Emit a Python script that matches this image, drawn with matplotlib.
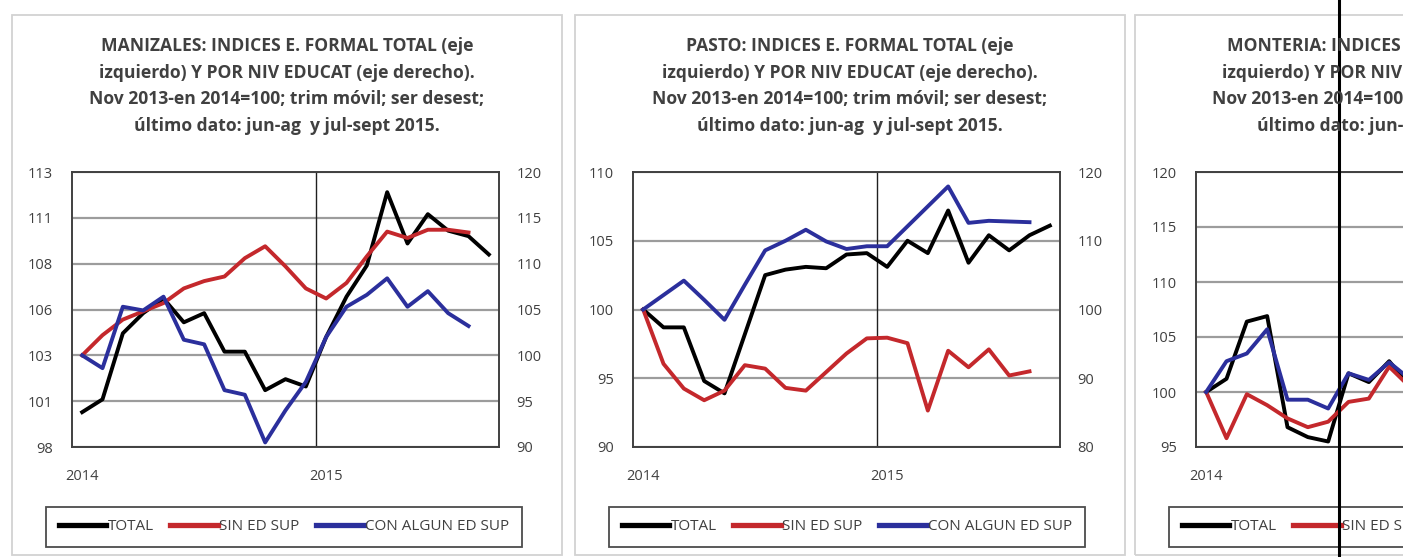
import matplotlib.pyplot as plt
from matplotlib.patches import Rectangle
from matplotlib.lines import Line2D

plt.rcParams['font.family'] = ['Open Sans', 'DejaVu Sans']

# index Nov2013-Jan2014 = 100, rolling quarter, seasonally adjusted
# one point per month, first point = 2014, TOTAL has one month more
year_labels = ["2014", "2015"]
legend_labels = ["TOTAL", "SIN ED SUP", "CON ALGUN ED SUP"]

title_tail = ["izquierdo) Y POR NIV EDUCAT (eje derecho).",
              "Nov 2013-en 2014=100; trim móvil; ser desest;",
              "último dato: jun-ag  y jul-sept 2015."]

# MANIZALES
manizales_total = [99.9, 100.6, 104.2, 105.3, 106.1, 104.8, 105.3, 103.2, 103.2, 101.1, 101.7,
                   101.3, 104.0, 106.2, 107.9, 111.9, 109.1, 110.7, 109.8, 109.5, 108.5]
manizales_sin = [100, 102.2, 103.9, 104.8, 105.7, 107.3, 108.1, 108.6, 110.6, 111.9, 109.7,
                 107.3, 106.2, 107.9, 110.8, 113.5, 112.8, 113.7, 113.7, 113.4]
manizales_con = [100, 98.6, 105.3, 104.9, 106.4, 101.7, 101.2, 96.2, 95.7, 90.5, 94.0,
                 97.1, 102.0, 105.3, 106.6, 108.4, 105.3, 107.0, 104.6, 103.2]
manizales_left_ticks = [98, 100.5, 103, 105.5, 108, 110.5, 113]
manizales_left_labels = ["98", "101", "103", "106", "108", "111", "113"]
manizales_right_ticks = [90, 95, 100, 105, 110, 115, 120]

# PASTO
pasto_total = [100, 98.7, 98.7, 94.8, 93.9, 98.2, 102.5, 102.9, 103.1, 103.0, 104.0,
               104.1, 103.1, 105.0, 104.1, 107.2, 103.4, 105.4, 104.3, 105.4, 106.1]
pasto_sin = [100, 92.1, 88.5, 86.8, 88.2, 91.9, 91.4, 88.6, 88.2, 90.9, 93.6,
             95.8, 95.9, 95.1, 85.3, 94.0, 91.6, 94.2, 90.4, 91.0]
pasto_con = [100, 102.1, 104.2, 101.4, 98.5, 103.6, 108.6, 110.0, 111.6, 109.9, 108.8,
             109.2, 109.2, 112.1, 115.0, 117.9, 112.6, 112.9, 112.8, 112.7]
pasto_left_ticks = [90, 95, 100, 105, 110]
pasto_right_ticks = [80, 90, 100, 110, 120]

# MONTERIA (cut off at the right edge of the screenshot)
monteria_total = [100, 101.2, 106.4, 106.9, 96.8, 95.9, 95.5, 101.7, 100.9, 102.8, 100.6]
monteria_sin = [100, 95.8, 99.8, 98.8, 97.6, 96.8, 97.3, 99.1, 99.4, 102.3, 100.5]
monteria_con = [100, 102.8, 103.5, 105.7, 99.3, 99.3, 98.5, 101.7, 101.1, 102.7, 101.2]
monteria_left_ticks = [95, 100, 105, 110, 115, 120]

W, H = 1403, 557
TXT = '#404040'
colors = ['#000000', '#C4282C', '#2B2F9C']


def fx(px):
    return px / W


def fy(py):
    return 1 - py / H


def draw_panel(fig, box_left, plot_left, city, total, sin, con,
               lticks, llabels, rticks, rlabels):
    # light frame round the chart
    fig.add_artist(Rectangle((fx(box_left), fy(555)), fx(550), 540 / H,
                             transform=fig.transFigure, fill=False,
                             edgecolor='#D2D2D2', lw=1.3))
    cx = box_left + 275
    lines = [city + ": INDICES E. FORMAL TOTAL (eje"] + title_tail
    for k, t in enumerate(lines):
        fig.text(fx(cx), fy(46 + 26.6 * k), t, ha='center', va='center',
                 fontsize=12.6, fontweight='bold', color=TXT)

    ax = fig.add_axes([fx(plot_left), fy(447), fx(427), 275 / H])
    ax2 = ax.twinx()

    ax.set_xlim(-0.5, 20.5)
    ax.set_ylim(lticks[0], lticks[-1])
    ax2.set_ylim(rticks[0], rticks[-1])
    ax.set_yticks(lticks)
    ax.set_yticklabels(llabels)
    ax2.set_yticks(rticks)
    ax2.set_yticklabels(rlabels)
    ax.set_xticks([0, 12])
    ax.set_xticklabels(year_labels)

    ax.yaxis.grid(True, color='#9C9C9C', lw=1.6)
    ax.axvline(11.5, color='#202020', lw=1.0)
    ax.set_axisbelow(True)

    l1, = ax.plot(range(len(total)), total, color=colors[0], lw=2.8)
    l2, = ax2.plot(range(len(sin)), sin, color=colors[1], lw=2.8)
    l3, = ax2.plot(range(len(con)), con, color=colors[2], lw=2.8)

    for s in ax.spines.values():
        s.set_color('#404040')
        s.set_linewidth(1.4)
    for s in ax2.spines.values():
        s.set_visible(False)
    ax.tick_params(axis='y', length=0, pad=13.5, labelsize=10.5, labelcolor=TXT)
    ax2.tick_params(axis='y', length=0, pad=12.5, labelsize=10.5, labelcolor=TXT)
    ax.tick_params(axis='x', length=0, pad=16, labelsize=10.5, labelcolor=TXT)

    leg = ax.legend([l1, l2, l3], legend_labels, loc='center',
                    bbox_to_anchor=(fx(box_left + 272), fy(527)),
                    bbox_transform=fig.transFigure, ncol=3, fontsize=11,
                    frameon=True, fancybox=False, edgecolor='#202020',
                    handlelength=3.1, handletextpad=0.1, columnspacing=1.1,
                    borderpad=0.8, labelcolor=TXT)
    leg.get_frame().set_linewidth(1.3)
    for h in leg.legend_handles:
        h.set_linewidth(3.8)
    return ax


fig = plt.figure(figsize=(W / 100, H / 100), dpi=100)
fig.patch.set_facecolor('white')

draw_panel(fig, 12, 72, "MANIZALES", manizales_total, manizales_sin, manizales_con,
           manizales_left_ticks, manizales_left_labels,
           manizales_right_ticks, [str(v) for v in manizales_right_ticks])
draw_panel(fig, 575, 633, "PASTO", pasto_total, pasto_sin, pasto_con,
           pasto_left_ticks, [str(v) for v in pasto_left_ticks],
           pasto_right_ticks, [str(v) for v in pasto_right_ticks])
draw_panel(fig, 1135, 1196, "MONTERIA", monteria_total, monteria_sin, monteria_con,
           monteria_left_ticks, [str(v) for v in monteria_left_ticks],
           monteria_left_ticks, [str(v) for v in monteria_left_ticks])

# dark vertical stroke across the screenshot
fig.add_artist(Line2D([fx(1339), fx(1339)], [0, 1], color='black', lw=2.2,
                      transform=fig.transFigure))

fig.savefig('out.png', dpi=100)
